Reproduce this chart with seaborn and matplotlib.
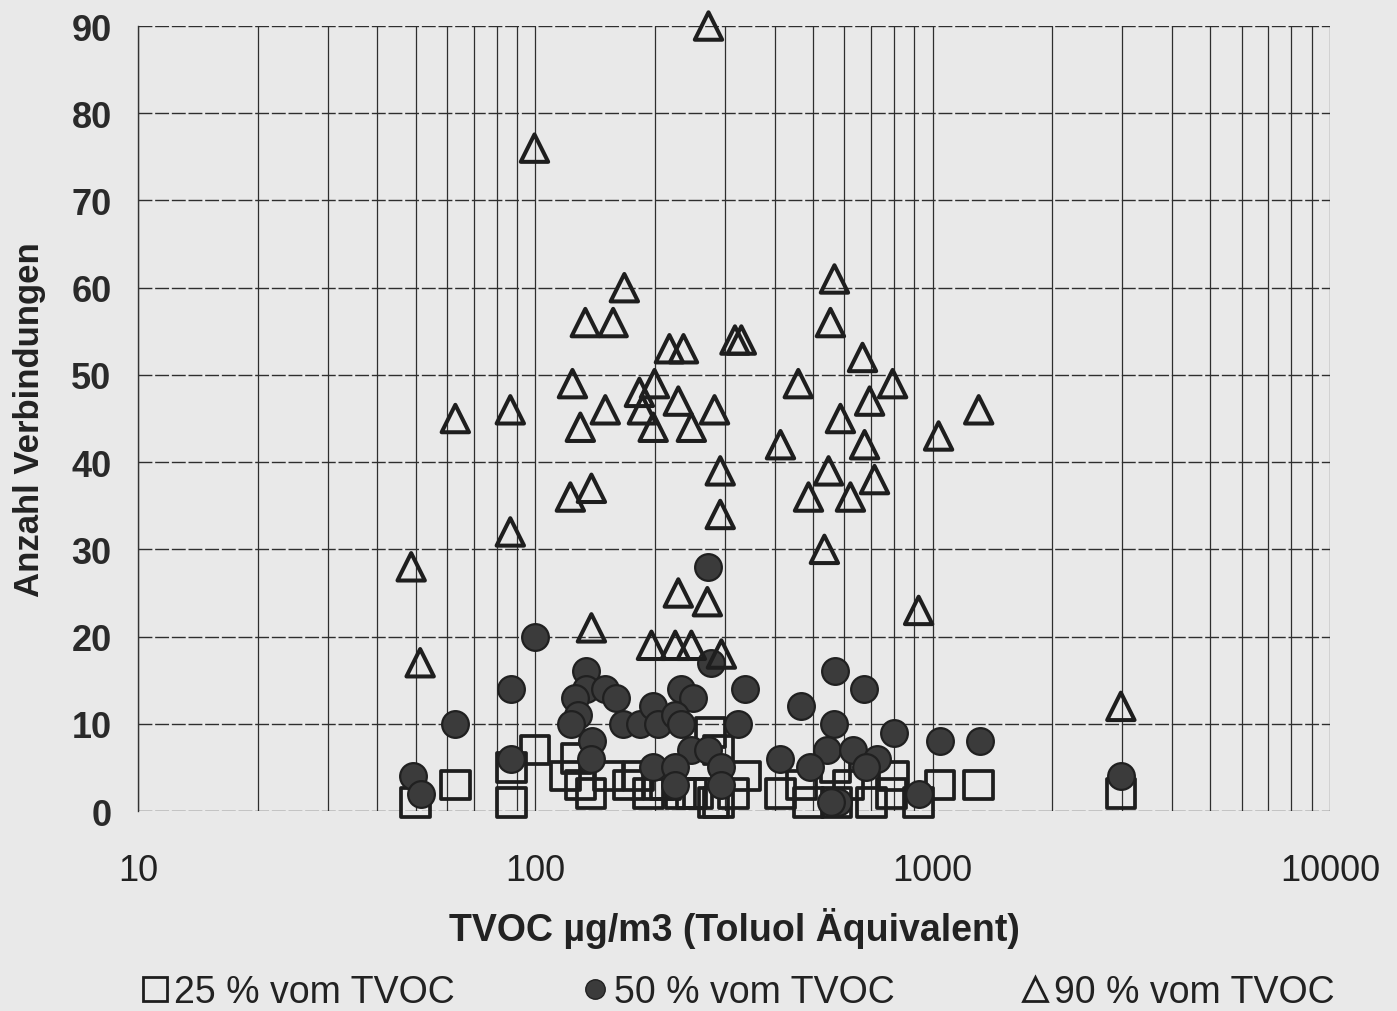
import numpy as np
import pandas as pd
import matplotlib
matplotlib.use("Agg")
import matplotlib.pyplot as plt
import seaborn as sns
from matplotlib.lines import Line2D
from matplotlib.ticker import FixedLocator, NullFormatter

# data
tvoc_25 = [49.9, 62.9, 87, 87, 99.8, 119, 127, 130, 138, 153, 171.5, 182, 192.5, 204,
           212.6, 232, 247, 257, 276, 289, 289, 281, 315, 338, 414, 468, 487, 570,
           573, 614, 702, 788, 798, 922, 1045, 1306, 2977]
n_25 = [1, 3, 1, 5, 7, 4, 6, 3, 2, 4, 3, 4, 2, 3,
        3, 2, 2, 2, 9, 7, 1, 1, 2, 4, 2, 3, 1, 5,
        1, 3, 1, 2, 4, 1, 3, 3, 2]

tvoc_50 = [49.3, 51.6, 62.9, 87, 87, 99.8, 134.5, 134, 150, 160, 126, 128, 123, 138.5,
           138, 233, 250, 166.5, 183.5, 198, 204, 225, 233, 247, 272, 198, 225, 225,
           294, 294, 337, 324, 414, 467, 272, 277, 569, 673, 563, 800, 1043, 1314,
           541, 632, 492, 725, 679, 922, 579, 556, 2977]
n_50 = [4, 2, 10, 14, 6, 20, 16, 14, 14, 13, 13, 11, 10, 8,
        6, 14, 13, 10, 10, 12, 10, 11, 10, 7, 7, 5, 5, 3,
        5, 3, 14, 10, 6, 12, 28, 17, 16, 14, 10, 9, 8, 8,
        7, 7, 5, 6, 5, 2, 1, 1, 4]

tvoc_90 = [48.7, 51.3, 62.9, 86.5, 86.5, 99.5, 124, 122.5, 129.8, 133.6, 138.4, 138.4,
           150, 157, 167.5, 182.8, 186, 199.5, 198, 217.5, 236, 229, 247, 282.5, 272.8,
           292, 292, 318, 330, 414, 459, 487, 534, 547, 566, 553, 586, 621, 666, 674,
           694, 714, 793, 922, 1035, 1306, 2977, 229, 271, 196, 225, 247, 294]
n_90 = [28, 17, 45, 46, 32, 76, 49, 36, 44, 56, 37, 21,
        46, 56, 60, 48, 46, 49, 44, 53, 53, 47, 44, 46, 90,
        39, 34, 54, 54, 42, 49, 36, 30, 39, 61, 56, 45, 36, 52, 42,
        47, 38, 49, 23, 43, 46, 12, 25, 24, 19, 19, 19, 18]

labels = ["25 % vom TVOC", "50 % vom TVOC", "90 % vom TVOC"]
x_ticks = [10, 100, 1000, 10000]
y_ticks = list(range(0, 91, 10))

sns.set_style("white")
bg = "#e9e9e9"
ink = "#1e1e1e"
plt.rcParams["font.family"] = ["Liberation Sans", "DejaVu Sans"]

fig = plt.figure(figsize=(13.97, 10.12), dpi=100, facecolor=bg)
ax = fig.add_axes([0.0988, 0.1976, 0.8532, 0.7757], facecolor=bg)

df25 = pd.DataFrame({"tvoc": tvoc_25, "n": n_25})
df50 = pd.DataFrame({"tvoc": tvoc_50, "n": n_50})
df90 = pd.DataFrame({"tvoc": tvoc_90, "n": n_90})

sns.scatterplot(data=df25, x="tvoc", y="n", marker="s", s=420, facecolor="none",
                edgecolor=ink, linewidth=2.7, ax=ax, clip_on=False, zorder=3)
sns.scatterplot(data=df50, x="tvoc", y="n", marker="o", s=370, facecolor="#3b3b3b",
                edgecolor="#202020", linewidth=1.6, ax=ax, clip_on=False, zorder=4)
sns.scatterplot(data=df90, x="tvoc", y="n", marker="^", s=390, facecolor="none",
                edgecolor=ink, linewidth=2.9, ax=ax, clip_on=False, zorder=5)

ax.set_xscale("log")
ax.set_xlim(10, 10000)
ax.set_ylim(0, 90)

ax.xaxis.set_major_locator(FixedLocator(x_ticks))
ax.set_xticklabels([str(t) for t in x_ticks])
ax.xaxis.set_minor_locator(FixedLocator([m * 10 ** e for e in range(1, 4) for m in range(2, 10)]))
ax.xaxis.set_minor_formatter(NullFormatter())
ax.set_yticks(y_ticks)
ax.set_yticklabels([str(t) for t in y_ticks], fontweight="bold", fontsize=26,
                   color="#2a2a2a")

ax.grid(True, which="both", axis="x", color="#2e2e2e", linewidth=0.9)
ax.grid(True, which="major", axis="y", color="#2e2e2e", linewidth=1.0, linestyle=(0, (10, 2)))
ax.set_axisbelow(True)

for side in ["top", "right", "bottom"]:
    ax.spines[side].set_visible(False)
ax.spines["left"].set_color("#333333")
ax.spines["left"].set_linewidth(1.0)

ax.tick_params(axis="y", which="major", direction="out", length=7, width=0.9,
               color="#333333", pad=12)
ax.tick_params(axis="x", which="both", length=0, pad=30, labelsize=26, labelcolor="#222222")

ax.set_xlabel("TVOC \u00b5g/m3 (Toluol \u00c4quivalent)", fontsize=27, fontweight="bold",
              color="#222222")
ax.xaxis.set_label_coords(0.5, -0.122)
ax.set_ylabel("Anzahl Verbindungen", fontsize=25, fontweight="bold", color="#222222")
ax.yaxis.set_label_coords(-0.077, 0.5)

handles = [
    Line2D([], [], linestyle="none", marker="s", markersize=17, markerfacecolor="none",
           markeredgecolor=ink, markeredgewidth=2.0),
    Line2D([], [], linestyle="none", marker="o", markersize=14, markerfacecolor="#3b3b3b",
           markeredgecolor="#202020"),
    Line2D([], [], linestyle="none", marker="^", markersize=17, markerfacecolor="none",
           markeredgecolor=ink, markeredgewidth=2.0),
]
fig.legend(handles, labels, loc="center", bbox_to_anchor=(0.527, 0.019), ncol=3,
           frameon=False, fontsize=27, handletextpad=0.05, columnspacing=3.3,
           handlelength=0.9, labelcolor="#222222")

fig.savefig("out.png", dpi=100, facecolor=bg)
